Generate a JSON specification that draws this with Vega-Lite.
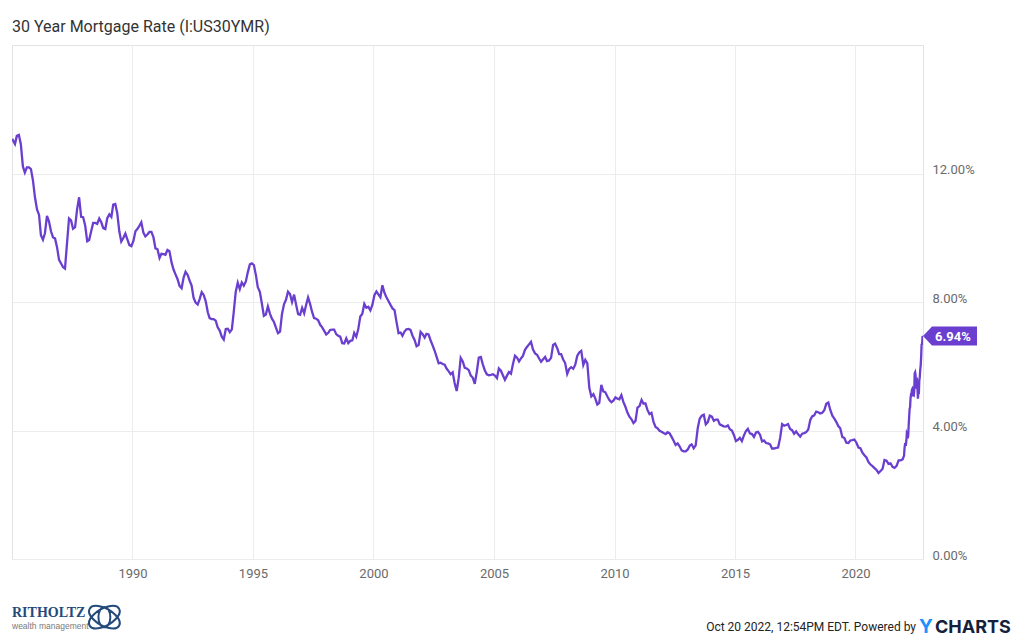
{
  "$schema": "https://vega.github.io/schema/vega-lite/v6.json",
  "width": 911,
  "height": 514,
  "autosize": {"type": "none"},
  "padding": {"left": 12, "top": 45, "right": 101, "bottom": 83},
  "background": "white",
  "config": {"font": "Roboto", "view": {"stroke": "#e3e3e3", "strokeWidth": 1}},
  "title": {"text": "30 Year Mortgage Rate (I:US30YMR)", "anchor": "start", "frame": "group", "fontSize": 16, "fontWeight": "normal", "color": "#333333", "font": "Roboto", "baseline": "alphabetic", "offset": 12, "dy": 15},
  "datasets": {
    "rates": [
      {"d":"1985-01-03","r":13.08},{"d":"1985-02-15","r":12.92},{"d":"1985-03-15","r":13.17},{"d":"1985-04-15","r":13.20},{"d":"1985-05-15","r":12.91},{"d":"1985-06-15","r":12.22},{"d":"1985-07-15","r":12.03},{"d":"1985-08-15","r":12.19},{"d":"1985-09-15","r":12.19},{"d":"1985-10-15","r":12.14},{"d":"1985-11-15","r":11.78},{"d":"1985-12-15","r":11.26},
      {"d":"1986-01-15","r":10.88},{"d":"1986-02-15","r":10.71},{"d":"1986-03-15","r":10.08},{"d":"1986-04-15","r":9.94},{"d":"1986-05-15","r":10.14},{"d":"1986-06-15","r":10.68},{"d":"1986-07-15","r":10.51},{"d":"1986-08-15","r":10.20},{"d":"1986-09-15","r":10.01},{"d":"1986-10-15","r":9.98},{"d":"1986-11-15","r":9.70},{"d":"1986-12-15","r":9.31},
      {"d":"1987-01-15","r":9.20},{"d":"1987-02-15","r":9.08},{"d":"1987-03-15","r":9.04},{"d":"1987-04-15","r":9.83},{"d":"1987-05-15","r":10.60},{"d":"1987-06-15","r":10.54},{"d":"1987-07-15","r":10.28},{"d":"1987-08-15","r":10.33},{"d":"1987-09-15","r":10.89},{"d":"1987-10-15","r":11.26},{"d":"1987-11-15","r":10.65},{"d":"1987-12-15","r":10.64},
      {"d":"1988-01-15","r":10.38},{"d":"1988-02-15","r":9.89},{"d":"1988-03-15","r":9.93},{"d":"1988-04-15","r":10.20},{"d":"1988-05-15","r":10.46},{"d":"1988-06-15","r":10.46},{"d":"1988-07-15","r":10.43},{"d":"1988-08-15","r":10.60},{"d":"1988-09-15","r":10.48},{"d":"1988-10-15","r":10.30},{"d":"1988-11-15","r":10.27},{"d":"1988-12-15","r":10.61},
      {"d":"1989-01-15","r":10.73},{"d":"1989-02-15","r":10.65},{"d":"1989-03-15","r":11.03},{"d":"1989-04-15","r":11.05},{"d":"1989-05-15","r":10.77},{"d":"1989-06-15","r":10.20},{"d":"1989-07-15","r":9.88},{"d":"1989-08-15","r":9.99},{"d":"1989-09-15","r":10.13},{"d":"1989-10-15","r":9.95},{"d":"1989-11-15","r":9.77},{"d":"1989-12-15","r":9.74},
      {"d":"1990-01-15","r":9.90},{"d":"1990-02-15","r":10.20},{"d":"1990-03-15","r":10.27},{"d":"1990-04-15","r":10.37},{"d":"1990-05-15","r":10.48},{"d":"1990-06-15","r":10.16},{"d":"1990-07-15","r":10.04},{"d":"1990-08-15","r":10.10},{"d":"1990-09-15","r":10.18},{"d":"1990-10-15","r":10.18},{"d":"1990-11-15","r":10.01},{"d":"1990-12-15","r":9.67},
      {"d":"1991-01-15","r":9.64},{"d":"1991-02-15","r":9.37},{"d":"1991-03-15","r":9.50},{"d":"1991-04-15","r":9.49},{"d":"1991-05-15","r":9.47},{"d":"1991-06-15","r":9.62},{"d":"1991-07-15","r":9.58},{"d":"1991-08-15","r":9.24},{"d":"1991-09-15","r":9.01},{"d":"1991-10-15","r":8.86},{"d":"1991-11-15","r":8.71},{"d":"1991-12-15","r":8.50},
      {"d":"1992-01-15","r":8.43},{"d":"1992-02-15","r":8.76},{"d":"1992-03-15","r":8.94},{"d":"1992-04-15","r":8.85},{"d":"1992-05-15","r":8.67},{"d":"1992-06-15","r":8.51},{"d":"1992-07-15","r":8.13},{"d":"1992-08-15","r":7.98},{"d":"1992-09-15","r":7.92},{"d":"1992-10-15","r":8.09},{"d":"1992-11-15","r":8.31},{"d":"1992-12-15","r":8.22},
      {"d":"1993-01-15","r":8.02},{"d":"1993-02-15","r":7.68},{"d":"1993-03-15","r":7.50},{"d":"1993-04-15","r":7.47},{"d":"1993-05-15","r":7.47},{"d":"1993-06-15","r":7.42},{"d":"1993-07-15","r":7.21},{"d":"1993-08-15","r":7.11},{"d":"1993-09-15","r":6.92},{"d":"1993-10-15","r":6.83},{"d":"1993-11-15","r":7.16},{"d":"1993-12-15","r":7.17},
      {"d":"1994-01-15","r":7.06},{"d":"1994-02-15","r":7.15},{"d":"1994-03-15","r":7.68},{"d":"1994-04-15","r":8.32},{"d":"1994-05-15","r":8.60},{"d":"1994-06-15","r":8.40},{"d":"1994-07-15","r":8.61},{"d":"1994-08-15","r":8.51},{"d":"1994-09-15","r":8.64},{"d":"1994-10-15","r":8.93},{"d":"1994-11-15","r":9.17},{"d":"1994-12-15","r":9.20},
      {"d":"1995-01-15","r":9.15},{"d":"1995-02-15","r":8.83},{"d":"1995-03-15","r":8.46},{"d":"1995-04-15","r":8.32},{"d":"1995-05-15","r":7.96},{"d":"1995-06-15","r":7.57},{"d":"1995-07-15","r":7.61},{"d":"1995-08-15","r":7.86},{"d":"1995-09-15","r":7.64},{"d":"1995-10-15","r":7.48},{"d":"1995-11-15","r":7.38},{"d":"1995-12-15","r":7.20},
      {"d":"1996-01-15","r":7.03},{"d":"1996-02-15","r":7.08},{"d":"1996-03-15","r":7.62},{"d":"1996-04-15","r":7.93},{"d":"1996-05-15","r":8.07},{"d":"1996-06-15","r":8.32},{"d":"1996-07-15","r":8.25},{"d":"1996-08-15","r":8.00},{"d":"1996-09-15","r":8.23},{"d":"1996-10-15","r":7.92},{"d":"1996-11-15","r":7.62},{"d":"1996-12-15","r":7.60},
      {"d":"1997-01-15","r":7.82},{"d":"1997-02-15","r":7.65},{"d":"1997-03-15","r":7.90},{"d":"1997-04-15","r":8.14},{"d":"1997-05-15","r":7.94},{"d":"1997-06-15","r":7.69},{"d":"1997-07-15","r":7.50},{"d":"1997-08-15","r":7.48},{"d":"1997-09-15","r":7.43},{"d":"1997-10-15","r":7.29},{"d":"1997-11-15","r":7.21},{"d":"1997-12-15","r":7.10},
      {"d":"1998-01-15","r":6.99},{"d":"1998-02-15","r":7.04},{"d":"1998-03-15","r":7.13},{"d":"1998-04-15","r":7.14},{"d":"1998-05-15","r":7.14},{"d":"1998-06-15","r":7.00},{"d":"1998-07-15","r":6.95},{"d":"1998-08-15","r":6.92},{"d":"1998-09-15","r":6.72},{"d":"1998-10-15","r":6.71},{"d":"1998-11-15","r":6.87},{"d":"1998-12-15","r":6.72},
      {"d":"1999-01-15","r":6.79},{"d":"1999-02-15","r":6.81},{"d":"1999-03-15","r":7.04},{"d":"1999-04-15","r":6.92},{"d":"1999-05-15","r":7.15},{"d":"1999-06-15","r":7.55},{"d":"1999-07-15","r":7.63},{"d":"1999-08-15","r":7.94},{"d":"1999-09-15","r":7.82},{"d":"1999-10-15","r":7.85},{"d":"1999-11-15","r":7.74},{"d":"1999-12-15","r":7.91},
      {"d":"2000-01-15","r":8.21},{"d":"2000-02-15","r":8.33},{"d":"2000-03-15","r":8.24},{"d":"2000-04-15","r":8.15},{"d":"2000-05-15","r":8.52},{"d":"2000-06-15","r":8.29},{"d":"2000-07-15","r":8.15},{"d":"2000-08-15","r":8.03},{"d":"2000-09-15","r":7.91},{"d":"2000-10-15","r":7.80},{"d":"2000-11-15","r":7.75},{"d":"2000-12-15","r":7.38},
      {"d":"2001-01-15","r":7.03},{"d":"2001-02-15","r":7.05},{"d":"2001-03-15","r":6.95},{"d":"2001-04-15","r":7.08},{"d":"2001-05-15","r":7.15},{"d":"2001-06-15","r":7.16},{"d":"2001-07-15","r":7.13},{"d":"2001-08-15","r":6.95},{"d":"2001-09-15","r":6.82},{"d":"2001-10-15","r":6.62},{"d":"2001-11-15","r":6.66},{"d":"2001-12-15","r":7.07},
      {"d":"2002-01-15","r":7.00},{"d":"2002-02-15","r":6.89},{"d":"2002-03-15","r":7.01},{"d":"2002-04-15","r":6.99},{"d":"2002-05-15","r":6.81},{"d":"2002-06-15","r":6.65},{"d":"2002-07-15","r":6.49},{"d":"2002-08-15","r":6.29},{"d":"2002-09-15","r":6.09},{"d":"2002-10-15","r":6.11},{"d":"2002-11-15","r":6.07},{"d":"2002-12-15","r":6.05},
      {"d":"2003-01-15","r":5.92},{"d":"2003-02-15","r":5.84},{"d":"2003-03-15","r":5.75},{"d":"2003-04-15","r":5.81},{"d":"2003-05-15","r":5.48},{"d":"2003-06-15","r":5.23},{"d":"2003-07-15","r":5.63},{"d":"2003-08-15","r":6.26},{"d":"2003-09-15","r":6.15},{"d":"2003-10-15","r":5.95},{"d":"2003-11-15","r":5.93},{"d":"2003-12-15","r":5.88},
      {"d":"2004-01-15","r":5.71},{"d":"2004-02-15","r":5.64},{"d":"2004-03-15","r":5.45},{"d":"2004-04-15","r":5.83},{"d":"2004-05-15","r":6.27},{"d":"2004-06-15","r":6.29},{"d":"2004-07-15","r":6.06},{"d":"2004-08-15","r":5.87},{"d":"2004-09-15","r":5.75},{"d":"2004-10-15","r":5.72},{"d":"2004-11-15","r":5.73},{"d":"2004-12-15","r":5.75},
      {"d":"2005-01-15","r":5.71},{"d":"2005-02-15","r":5.63},{"d":"2005-03-15","r":5.93},{"d":"2005-04-15","r":5.86},{"d":"2005-05-15","r":5.72},{"d":"2005-06-15","r":5.58},{"d":"2005-07-15","r":5.70},{"d":"2005-08-15","r":5.82},{"d":"2005-09-15","r":5.77},{"d":"2005-10-15","r":6.07},{"d":"2005-11-15","r":6.33},{"d":"2005-12-15","r":6.27},
      {"d":"2006-01-15","r":6.15},{"d":"2006-02-15","r":6.25},{"d":"2006-03-15","r":6.32},{"d":"2006-04-15","r":6.51},{"d":"2006-05-15","r":6.60},{"d":"2006-06-15","r":6.68},{"d":"2006-07-15","r":6.76},{"d":"2006-08-15","r":6.52},{"d":"2006-09-15","r":6.40},{"d":"2006-10-15","r":6.36},{"d":"2006-11-15","r":6.24},{"d":"2006-12-15","r":6.14},
      {"d":"2007-01-15","r":6.22},{"d":"2007-02-15","r":6.29},{"d":"2007-03-15","r":6.16},{"d":"2007-04-15","r":6.18},{"d":"2007-05-15","r":6.26},{"d":"2007-06-15","r":6.66},{"d":"2007-07-15","r":6.70},{"d":"2007-08-15","r":6.57},{"d":"2007-09-15","r":6.38},{"d":"2007-10-15","r":6.38},{"d":"2007-11-15","r":6.21},{"d":"2007-12-15","r":6.10},
      {"d":"2008-01-15","r":5.76},{"d":"2008-02-15","r":5.92},{"d":"2008-03-15","r":5.97},{"d":"2008-04-15","r":5.92},{"d":"2008-05-15","r":6.04},{"d":"2008-06-15","r":6.32},{"d":"2008-07-15","r":6.43},{"d":"2008-08-15","r":6.48},{"d":"2008-09-15","r":6.04},{"d":"2008-10-15","r":6.20},{"d":"2008-11-15","r":6.09},{"d":"2008-12-15","r":5.33},
      {"d":"2009-01-15","r":5.06},{"d":"2009-02-15","r":5.13},{"d":"2009-03-15","r":5.00},{"d":"2009-04-15","r":4.81},{"d":"2009-05-15","r":4.86},{"d":"2009-06-15","r":5.42},{"d":"2009-07-15","r":5.22},{"d":"2009-08-15","r":5.19},{"d":"2009-09-15","r":5.06},{"d":"2009-10-15","r":4.95},{"d":"2009-11-15","r":4.88},{"d":"2009-12-15","r":4.93},
      {"d":"2010-01-15","r":5.03},{"d":"2010-02-15","r":4.99},{"d":"2010-03-15","r":4.97},{"d":"2010-04-15","r":5.10},{"d":"2010-05-15","r":4.89},{"d":"2010-06-15","r":4.74},{"d":"2010-07-15","r":4.56},{"d":"2010-08-15","r":4.43},{"d":"2010-09-15","r":4.35},{"d":"2010-10-15","r":4.23},{"d":"2010-11-15","r":4.30},{"d":"2010-12-15","r":4.71},
      {"d":"2011-01-15","r":4.76},{"d":"2011-02-15","r":4.95},{"d":"2011-03-15","r":4.84},{"d":"2011-04-15","r":4.84},{"d":"2011-05-15","r":4.64},{"d":"2011-06-15","r":4.51},{"d":"2011-07-15","r":4.55},{"d":"2011-08-15","r":4.27},{"d":"2011-09-15","r":4.11},{"d":"2011-10-15","r":4.07},{"d":"2011-11-15","r":3.99},{"d":"2011-12-15","r":3.96},
      {"d":"2012-01-15","r":3.92},{"d":"2012-02-15","r":3.89},{"d":"2012-03-15","r":3.95},{"d":"2012-04-15","r":3.91},{"d":"2012-05-15","r":3.80},{"d":"2012-06-15","r":3.68},{"d":"2012-07-15","r":3.55},{"d":"2012-08-15","r":3.60},{"d":"2012-09-15","r":3.50},{"d":"2012-10-15","r":3.38},{"d":"2012-11-15","r":3.35},{"d":"2012-12-15","r":3.35},
      {"d":"2013-01-15","r":3.41},{"d":"2013-02-15","r":3.53},{"d":"2013-03-15","r":3.57},{"d":"2013-04-15","r":3.45},{"d":"2013-05-15","r":3.54},{"d":"2013-06-15","r":4.07},{"d":"2013-07-15","r":4.37},{"d":"2013-08-15","r":4.46},{"d":"2013-09-15","r":4.49},{"d":"2013-10-15","r":4.19},{"d":"2013-11-15","r":4.26},{"d":"2013-12-15","r":4.46},
      {"d":"2014-01-15","r":4.43},{"d":"2014-02-15","r":4.30},{"d":"2014-03-15","r":4.34},{"d":"2014-04-15","r":4.34},{"d":"2014-05-15","r":4.19},{"d":"2014-06-15","r":4.16},{"d":"2014-07-15","r":4.13},{"d":"2014-08-15","r":4.12},{"d":"2014-09-15","r":4.16},{"d":"2014-10-15","r":4.04},{"d":"2014-11-15","r":4.00},{"d":"2014-12-15","r":3.86},
      {"d":"2015-01-15","r":3.67},{"d":"2015-02-15","r":3.71},{"d":"2015-03-15","r":3.77},{"d":"2015-04-15","r":3.67},{"d":"2015-05-15","r":3.84},{"d":"2015-06-15","r":3.98},{"d":"2015-07-15","r":4.05},{"d":"2015-08-15","r":3.91},{"d":"2015-09-15","r":3.89},{"d":"2015-10-15","r":3.80},{"d":"2015-11-15","r":3.94},{"d":"2015-12-15","r":3.96},
      {"d":"2016-01-15","r":3.87},{"d":"2016-02-15","r":3.66},{"d":"2016-03-15","r":3.69},{"d":"2016-04-15","r":3.61},{"d":"2016-05-15","r":3.60},{"d":"2016-06-15","r":3.57},{"d":"2016-07-15","r":3.44},{"d":"2016-08-15","r":3.44},{"d":"2016-09-15","r":3.46},{"d":"2016-10-15","r":3.47},{"d":"2016-11-15","r":3.77},{"d":"2016-12-15","r":4.20},
      {"d":"2017-01-15","r":4.15},{"d":"2017-02-15","r":4.17},{"d":"2017-03-15","r":4.20},{"d":"2017-04-15","r":4.05},{"d":"2017-05-15","r":4.01},{"d":"2017-06-15","r":3.90},{"d":"2017-07-15","r":3.97},{"d":"2017-08-15","r":3.88},{"d":"2017-09-15","r":3.81},{"d":"2017-10-15","r":3.90},{"d":"2017-11-15","r":3.92},{"d":"2017-12-15","r":3.95},
      {"d":"2018-01-15","r":4.03},{"d":"2018-02-15","r":4.33},{"d":"2018-03-15","r":4.44},{"d":"2018-04-15","r":4.47},{"d":"2018-05-15","r":4.59},{"d":"2018-06-15","r":4.57},{"d":"2018-07-15","r":4.53},{"d":"2018-08-15","r":4.55},{"d":"2018-09-15","r":4.63},{"d":"2018-10-15","r":4.83},{"d":"2018-11-15","r":4.87},{"d":"2018-12-15","r":4.64},
      {"d":"2019-01-15","r":4.46},{"d":"2019-02-15","r":4.37},{"d":"2019-03-15","r":4.27},{"d":"2019-04-15","r":4.14},{"d":"2019-05-15","r":4.07},{"d":"2019-06-15","r":3.80},{"d":"2019-07-15","r":3.77},{"d":"2019-08-15","r":3.62},{"d":"2019-09-15","r":3.61},{"d":"2019-10-15","r":3.69},{"d":"2019-11-15","r":3.70},{"d":"2019-12-15","r":3.72},
      {"d":"2020-01-15","r":3.62},{"d":"2020-02-15","r":3.47},{"d":"2020-03-15","r":3.45},{"d":"2020-04-15","r":3.31},{"d":"2020-05-15","r":3.23},{"d":"2020-06-15","r":3.16},{"d":"2020-07-15","r":3.02},{"d":"2020-08-15","r":2.94},{"d":"2020-09-15","r":2.89},{"d":"2020-10-15","r":2.83},{"d":"2020-11-15","r":2.77},{"d":"2020-12-15","r":2.68},
      {"d":"2021-01-15","r":2.74},{"d":"2021-02-15","r":2.81},{"d":"2021-03-15","r":3.08},{"d":"2021-04-15","r":3.06},{"d":"2021-05-15","r":2.96},{"d":"2021-06-15","r":2.98},{"d":"2021-07-15","r":2.87},{"d":"2021-08-15","r":2.84},{"d":"2021-09-15","r":2.90},{"d":"2021-10-15","r":3.07},{"d":"2021-11-15","r":3.07},{"d":"2021-12-15","r":3.10},
      {"d":"2022-01-06","r":3.22},{"d":"2022-01-13","r":3.45},{"d":"2022-01-20","r":3.56},{"d":"2022-01-27","r":3.55},{"d":"2022-02-03","r":3.55},{"d":"2022-02-10","r":3.69},{"d":"2022-02-17","r":3.92},{"d":"2022-02-24","r":3.89},{"d":"2022-03-03","r":3.76},{"d":"2022-03-10","r":3.85},{"d":"2022-03-17","r":4.16},{"d":"2022-03-24","r":4.42},{"d":"2022-03-31","r":4.67},{"d":"2022-04-07","r":4.72},{"d":"2022-04-14","r":5.00},{"d":"2022-04-21","r":5.11},{"d":"2022-04-28","r":5.10},{"d":"2022-05-05","r":5.27},{"d":"2022-05-12","r":5.30},{"d":"2022-05-19","r":5.25},{"d":"2022-05-26","r":5.10},{"d":"2022-06-02","r":5.09},{"d":"2022-06-09","r":5.23},{"d":"2022-06-16","r":5.78},{"d":"2022-06-23","r":5.81},{"d":"2022-06-30","r":5.70},{"d":"2022-07-07","r":5.30},{"d":"2022-07-14","r":5.51},{"d":"2022-07-21","r":5.54},{"d":"2022-07-28","r":5.30},{"d":"2022-08-04","r":4.99},{"d":"2022-08-11","r":5.22},{"d":"2022-08-18","r":5.13},{"d":"2022-08-25","r":5.55},{"d":"2022-09-01","r":5.66},{"d":"2022-09-08","r":5.89},{"d":"2022-09-15","r":6.02},{"d":"2022-09-22","r":6.29},{"d":"2022-09-29","r":6.70},{"d":"2022-10-06","r":6.66},{"d":"2022-10-13","r":6.92},{"d":"2022-10-20","r":6.94}
    ],
    "last": [{"d":"2022-10-20","r":6.94,"label":"6.94%"}]
  },
  "layer": [
    {
      "data": {"name": "rates"},
      "mark": {"type": "line", "color": "#6a3fd0", "strokeWidth": 2.3, "clip": true},
      "encoding": {
        "x": {"field": "d", "type": "temporal",
          "scale": {"domain": [{"year": 1985, "month": 1, "date": 1}, {"year": 2022, "month": 10, "date": 20}]},
          "axis": {"title": null, "values": [{"year":1990,"month":1,"date":1},{"year":1995,"month":1,"date":1},{"year":2000,"month":1,"date":1},{"year":2005,"month":1,"date":1},{"year":2010,"month":1,"date":1},{"year":2015,"month":1,"date":1},{"year":2020,"month":1,"date":1}],
            "format": "%Y", "grid": true, "gridColor": "#ececec", "domain": false, "ticks": false,
            "labelPadding": 8, "labelFontSize": 13, "labelColor": "#6b6b6b", "labelFont": "Roboto"}},
        "y": {"field": "r", "type": "quantitative",
          "scale": {"domain": [0, 16], "nice": false, "zero": true},
          "axis": {"title": null, "orient": "right", "values": [0, 4, 8, 12], "grid": true, "gridColor": "#ececec", "domain": false, "ticks": false,
            "labelAlign": "left", "labelBaseline": "alphabetic", "labelPadding": 9, "labelFontSize": 13, "labelColor": "#6b6b6b", "labelFont": "Roboto",
            "labelExpr": "format(datum.value, '.2f') + '%'"}}
      }
    },
    {
      "data": {"name": "last"},
      "mark": {"type": "point", "shape": "M0,0L0.9,-0.95L5.4,-0.95L5.4,0.95L0.9,0.95Z", "size": 400, "filled": true, "color": "#6a3fd0", "opacity": 1, "clip": false},
      "encoding": {"x": {"field": "d", "type": "temporal"}, "y": {"field": "r", "type": "quantitative"}}
    },
    {
      "data": {"name": "last"},
      "mark": {"type": "text", "align": "left", "baseline": "middle", "dx": 12, "dy": 1, "color": "white", "fontWeight": "bold", "fontSize": 13, "font": "Roboto"},
      "encoding": {"x": {"field": "d", "type": "temporal"}, "y": {"field": "r", "type": "quantitative"}, "text": {"field": "label"}}
    },
    {
      "data": {"values": [{}]},
      "mark": {"type": "text", "align": "right", "baseline": "alphabetic", "dx": -7, "fontSize": 12, "color": "#222222", "font": "Roboto", "text": "Oct 20 2022, 12:54PM EDT. Powered by"},
      "encoding": {"x": {"datum": {"year": 2022, "month": 10, "date": 20}, "type": "temporal"}, "y": {"datum": -2.24, "type": "quantitative"}}
    },
    {
      "data": {"values": [{}]},
      "mark": {"type": "text", "align": "left", "baseline": "alphabetic", "dx": -4, "fontSize": 19, "fontWeight": "bold", "color": "#1e90ff", "font": "Inter", "text": "Y"},
      "encoding": {"x": {"datum": {"year": 2022, "month": 10, "date": 20}, "type": "temporal"}, "y": {"datum": -2.3, "type": "quantitative"}}
    },
    {
      "data": {"values": [{}]},
      "mark": {"type": "text", "align": "left", "baseline": "alphabetic", "dx": 12, "fontSize": 18, "fontWeight": "bold", "color": "#14213d", "font": "Inter", "text": "CHARTS"},
      "encoding": {"x": {"datum": {"year": 2022, "month": 10, "date": 20}, "type": "temporal"}, "y": {"datum": -2.3, "type": "quantitative"}}
    },
    {
      "data": {"values": [{}]},
      "mark": {"type": "text", "align": "left", "baseline": "alphabetic", "fontSize": 14, "color": "#244a7a", "font": "Liberation Serif", "fontWeight": "bold", "text": "RITHOLTZ"},
      "encoding": {"x": {"datum": {"year": 1985, "month": 1, "date": 1}, "type": "temporal"}, "y": {"datum": -1.82, "type": "quantitative"}}
    },
    {
      "data": {"values": [{}]},
      "mark": {"type": "text", "align": "left", "baseline": "alphabetic", "fontSize": 8.5, "color": "#7a7a7a", "font": "Liberation Sans", "text": "wealth management"},
      "encoding": {"x": {"datum": {"year": 1985, "month": 1, "date": 1}, "type": "temporal"}, "y": {"datum": -2.18, "type": "quantitative"}}
    },
    {
      "data": {"values": [{}]},
      "mark": {"type": "point", "shape": "M0.866,-0.5A1,0.5,-30,1,1,-0.866,0.5A1,0.5,-30,1,1,0.866,-0.5ZM-0.866,-0.5A1,0.5,30,1,1,0.866,0.5A1,0.5,30,1,1,-0.866,-0.5ZM0,-0.6A0.35,0.6,0,1,1,0,0.6A0.35,0.6,0,1,1,0,-0.6Z", "size": 1156, "filled": false, "stroke": "#244a7a", "strokeWidth": 2, "opacity": 1},
      "encoding": {"x": {"datum": {"year": 1988, "month": 11, "date": 1}, "type": "temporal"}, "y": {"datum": -1.81, "type": "quantitative"}}
    }
  ]
}
